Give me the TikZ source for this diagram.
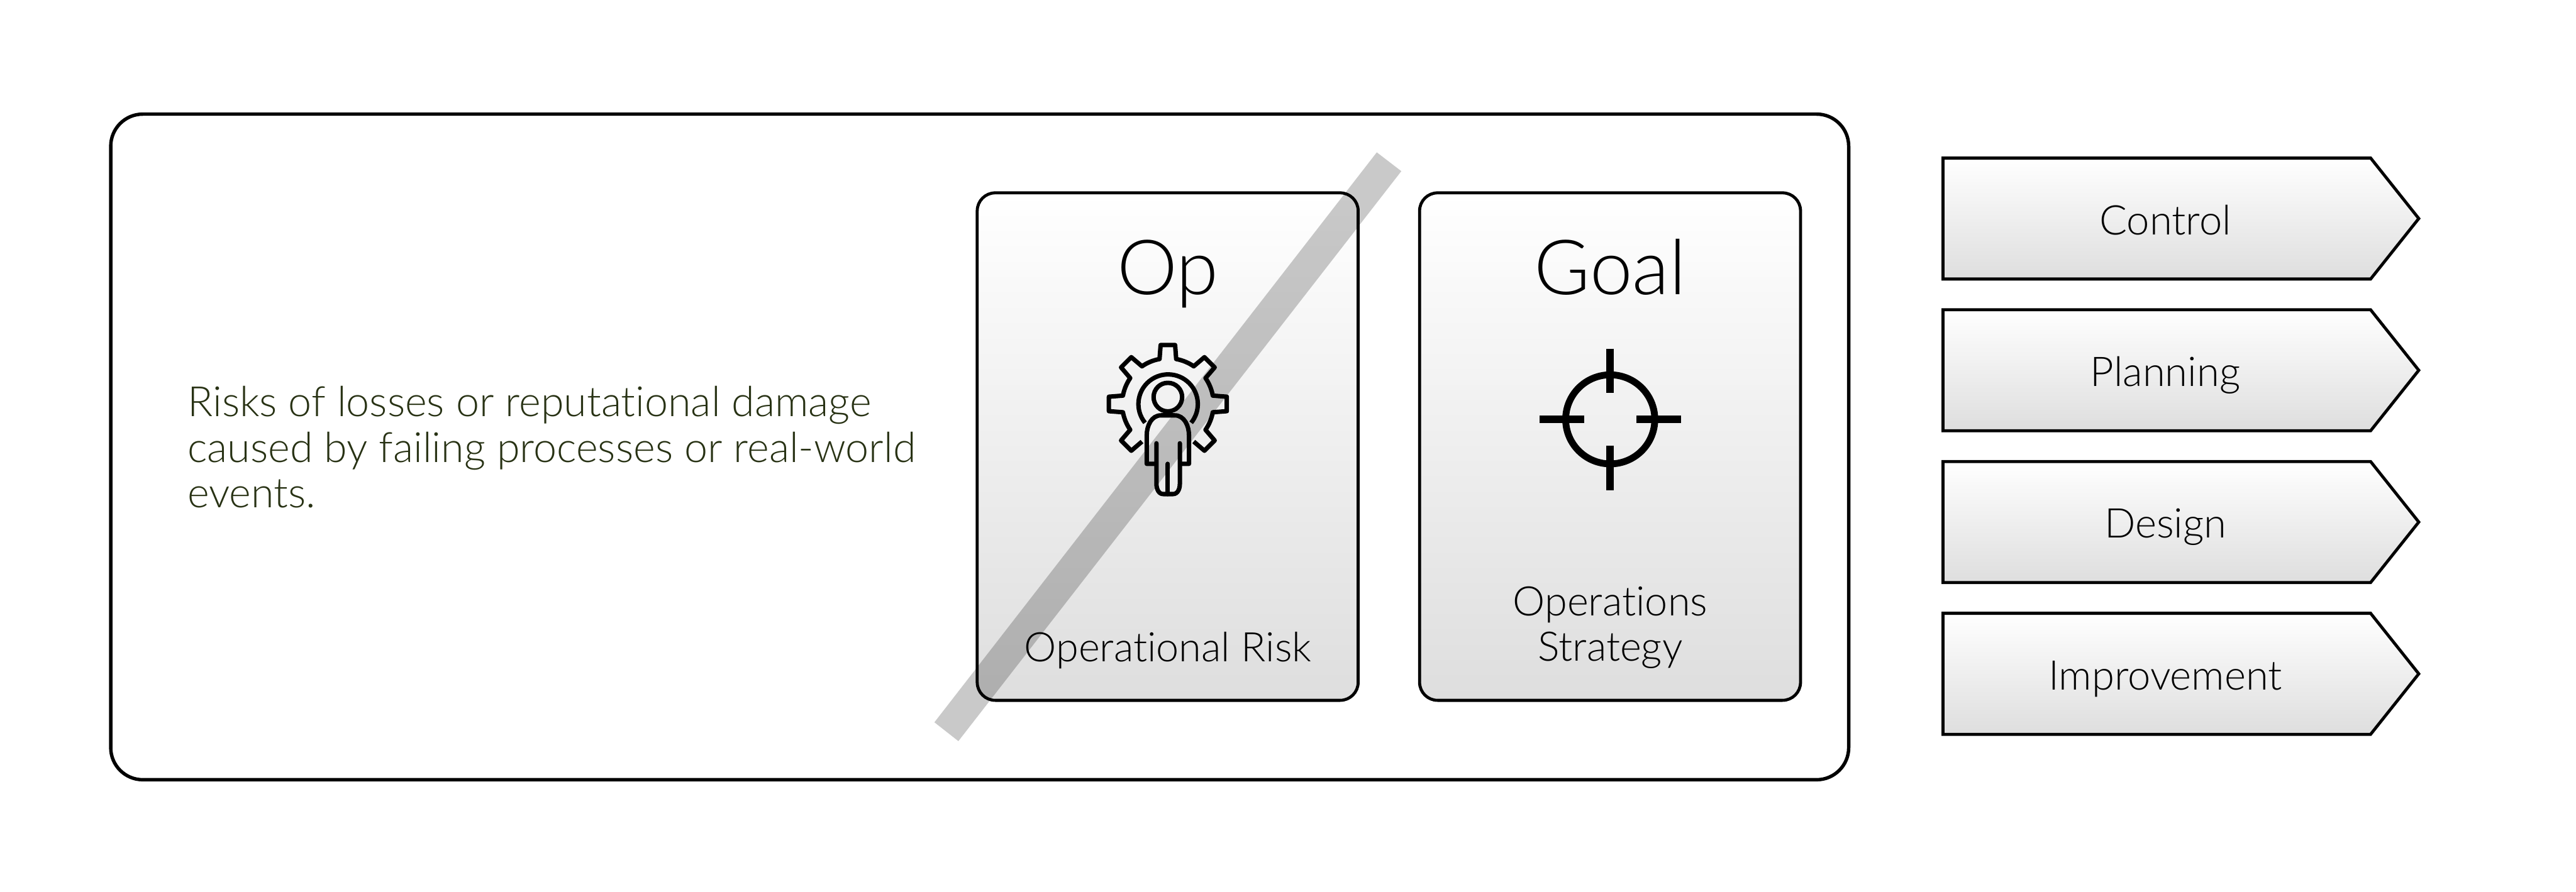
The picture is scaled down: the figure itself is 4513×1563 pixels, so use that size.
\documentclass[tikz,border=0pt]{standalone}
\usepackage{fontspec}
\setmainfont{Lato Light}[Ligatures=NoCommon]
\usetikzlibrary{shapes.symbols, positioning}
\definecolor{riskgreen}{RGB}{40,50,20}
\begin{document}
\begin{tikzpicture}[
      x=0.01cm, y=-0.01cm,
      frame/.style={rectangle, draw, line width=1.7pt, outer sep=0pt, rounded corners=16pt, minimum width=30.43cm, minimum height=11.66cm, anchor=north west},
      card/.style={rectangle, draw, line width=1.5pt, outer sep=0pt, rounded corners=9pt, minimum width=6.67cm, minimum height=8.89cm, anchor=north west, top color=white, bottom color=black!13},
      tag/.style={signal, signal to=east, signal pointer angle=103, draw, line width=1.5pt, outer sep=0pt, minimum width=8.33cm, minimum height=2.12cm, anchor=west, top color=white, bottom color=black!13, font=\fontsize{20.4}{24}\selectfont, inner sep=0pt, text height=0.56cm, text depth=0pt, execute at begin node=\hspace{0.3cm}},
      title/.style={font=\fontsize{38}{46}\selectfont, anchor=base},
      caption/.style={font=\fontsize{20.3}{22.8}\selectfont, align=center, anchor=base},
      icon/.style={line width=2.2pt, line join=round},
      sight/.style={line width=3.7pt}
    ]
    \useasboundingbox (0,0) rectangle (4513,1563);

    \node[frame] (box) at (194,200) {};
    \node[card] (op) at (1712,338) {};
    \node[card] (goal) at (2487,338) {};

    \node[font=\fontsize{20.8}{22.8}\selectfont, text=riskgreen, align=left, anchor=base west, inner sep=0pt] (note) at (328,890) {Risks of losses or reputational damage\\caused by failing processes or real-world\\events.};

    \node[title] (optitle) at (2046,516) {Op};
    \node[title] (goaltitle) at (2821,516) {Goal};
    \node[caption] (oplabel) at (2046,1160) {Operational Risk};
    \node[caption] (goallabel) at (2821,1159) {Operations\\Strategy};

    % gear with person
    \begin{scope}[shift={(2046,708)}, icon]
      \draw (-55.5:0.8cm) \foreach \a in {-45,0,...,180} {
          -- (\a-7:1.04cm) -- (\a+7:1.04cm) -- (\a+10.5:0.8cm) arc[start angle=\a+10.5, end angle=\a+34.5, radius=0.8cm]
        } -- (218:1.04cm) -- (232:1.04cm) -- (235.5:0.8cm);
      \draw (-40,33) arc[start angle=219, end angle=-39, radius=0.52cm];
      \draw (0,-12) circle[radius=0.25cm];
      \draw (-20,105) -- (-37,105) -- (-37,55) to[out=90, in=180] (-12,20) -- (12,20) to[out=0, in=90] (37,55) -- (37,105) -- (21,105);
      \draw[line cap=round] (-20,69) -- (-20,140) to[out=-90, in=180] (-8,158) -- (9,158) to[out=0, in=-90] (21,140) -- (21,69);
      \draw[line cap=round] (0,105) -- (0,158);
    \end{scope}

    % crosshair
    \begin{scope}[shift={(2821,735)}]
      \draw[line width=3.4pt] (0,0) circle[radius=0.78cm];
      \draw[sight] (0,-124) -- (0,-46);
      \draw[sight] (0,46) -- (0,124);
      \draw[sight] (-124,0) -- (-46,0);
      \draw[sight] (46,0) -- (124,0);
    \end{scope}

    % strike through
    \fill[black, opacity=0.21] (2412,267) -- (2455,300) -- (1679,1299) -- (1637,1266) -- cycle;

    \node[tag] (control) at (3404,383) {Control};
    \node[tag] (planning) at (3404,649) {Planning};
    \node[tag] (design) at (3404,915) {Design};
    \node[tag] (improvement) at (3404,1181) {Improvement};
  \end{tikzpicture}
\end{document}
